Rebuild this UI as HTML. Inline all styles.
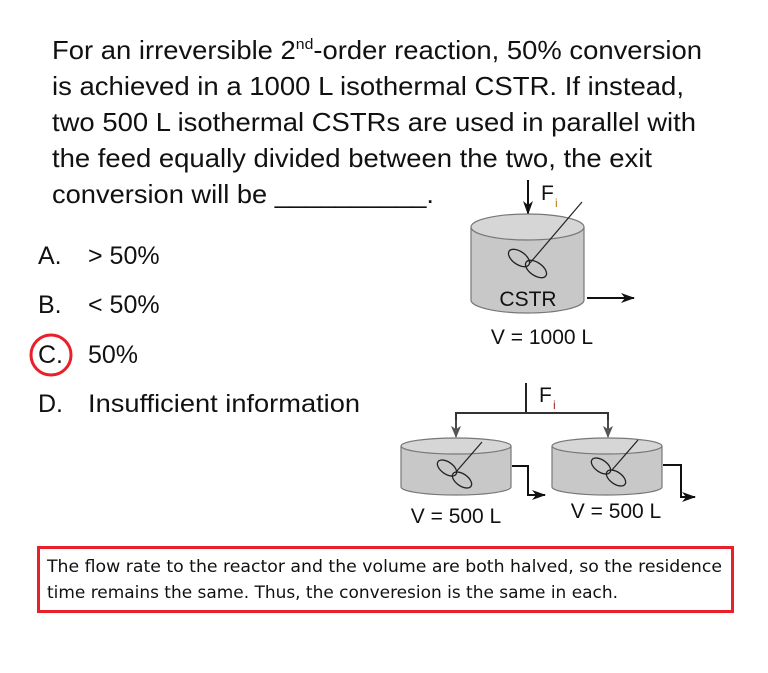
<!DOCTYPE html>
<html><head><meta charset="utf-8"><style>
html,body{margin:0;padding:0;background:#fff;}
svg{display:block;}
text{font-family:"Liberation Sans",Arial,sans-serif;fill:#111;}
.c{font-family:"DejaVu Sans Condensed","Liberation Sans",sans-serif;}
</style></head><body>
<svg width="768" height="673" viewBox="0 0 768 673" xmlns="http://www.w3.org/2000/svg">
<defs>
<marker id="ah" markerWidth="14" markerHeight="12" refX="13" refY="6" orient="auto" markerUnits="userSpaceOnUse"><path d="M0,1 L14,6 L0,11 L4,6 Z" fill="#111"/></marker>
<marker id="ahg" markerWidth="12" markerHeight="12" refX="11" refY="6" orient="auto" markerUnits="userSpaceOnUse"><path d="M0,1 L12,6 L0,11 L3,6 Z" fill="#555"/></marker>
</defs>
<g font-size="26">
<text x="52" y="59" textLength="650" lengthAdjust="spacingAndGlyphs">For an irreversible 2<tspan font-size="15" dy="-10">nd</tspan><tspan dy="10">-order reaction, 50% conversion</tspan></text>
<text x="52" y="95" textLength="632" lengthAdjust="spacingAndGlyphs">is achieved in a 1000 L isothermal CSTR. If instead,</text>
<text x="52" y="131" textLength="644" lengthAdjust="spacingAndGlyphs">two 500 L isothermal CSTRs are used in parallel with</text>
<text x="52" y="167" textLength="600" lengthAdjust="spacingAndGlyphs">the feed equally divided between the two, the exit</text>
<text x="52" y="203" textLength="382" lengthAdjust="spacingAndGlyphs">conversion will be __________.</text>
</g>
<g font-size="25">
<text x="38" y="264">A.</text><text x="88" y="264">&gt; 50%</text>
<text x="38" y="313">B.</text><text x="88" y="313">&lt; 50%</text>
<text x="38" y="363">C.</text><text x="88" y="363">50%</text>
<text x="38" y="412">D.</text><text x="88" y="412" textLength="272" lengthAdjust="spacingAndGlyphs">Insufficient information</text>
</g>
<circle cx="51" cy="355" r="20" fill="none" stroke="#e8202a" stroke-width="3"/>
<!-- big CSTR -->
<line x1="528" y1="180" x2="528" y2="214" stroke="#111" stroke-width="2" marker-end="url(#ah)"/>
<text x="541" y="200" font-size="21">F</text><text x="555" y="207" font-size="12" style="fill:#b87a1a">i</text>
<path d="M471,227 L471,300 A56.5,13 0 0 0 584,300 L584,227" fill="#c8c8c8" stroke="#777" stroke-width="1.2"/>
<ellipse cx="527.5" cy="227" rx="56.5" ry="13" fill="#d6d6d6" stroke="#777" stroke-width="1.2"/>
<line x1="582" y1="202" x2="530" y2="263" stroke="#222" stroke-width="1.2"/>
<ellipse cx="519" cy="258" rx="12" ry="6.5" transform="rotate(35 519 258)" fill="none" stroke="#222" stroke-width="1.3"/>
<ellipse cx="536" cy="269" rx="12" ry="6.5" transform="rotate(35 536 269)" fill="none" stroke="#222" stroke-width="1.3"/>
<text x="528" y="306" font-size="21" text-anchor="middle">CSTR</text>
<line x1="587" y1="298" x2="634" y2="298" stroke="#111" stroke-width="2" marker-end="url(#ah)"/>
<text x="542" y="344" font-size="21" text-anchor="middle">V = 1000 L</text>
<!-- parallel -->
<line x1="526" y1="383" x2="526" y2="413" stroke="#222" stroke-width="2"/>
<text x="539" y="402" font-size="21">F</text><text x="553" y="409" font-size="12" style="fill:#a02020">i</text>
<path d="M456,430 L456,413 L608,413 L608,430" fill="none" stroke="#333" stroke-width="2"/>
<line x1="456" y1="420" x2="456" y2="437" stroke="#555" stroke-width="1.5" marker-end="url(#ahg)"/>
<line x1="608" y1="420" x2="608" y2="437" stroke="#555" stroke-width="1.5" marker-end="url(#ahg)"/>
<g>
<path d="M401,446 L401,487 A55,8 0 0 0 511,487 L511,446" fill="#c8c8c8" stroke="#777" stroke-width="1.2"/>
<ellipse cx="456" cy="446" rx="55" ry="8" fill="#d6d6d6" stroke="#777" stroke-width="1.2"/>
<line x1="482" y1="442" x2="456" y2="472" stroke="#222" stroke-width="1.2"/>
<ellipse cx="447" cy="468" rx="11" ry="6" transform="rotate(35 447 468)" fill="none" stroke="#222" stroke-width="1.3"/>
<ellipse cx="462" cy="480" rx="11" ry="6" transform="rotate(35 462 480)" fill="none" stroke="#222" stroke-width="1.3"/>
<path d="M512,466 L528,466 L528,495 L545,495" fill="none" stroke="#111" stroke-width="2" marker-end="url(#ah)"/>
</g>
<g>
<path d="M552,446 L552,487 A55,8 0 0 0 662,487 L662,446" fill="#c8c8c8" stroke="#777" stroke-width="1.2"/>
<ellipse cx="607" cy="446" rx="55" ry="8" fill="#d6d6d6" stroke="#777" stroke-width="1.2"/>
<line x1="638" y1="440" x2="612" y2="470" stroke="#222" stroke-width="1.2"/>
<ellipse cx="601" cy="466" rx="11" ry="6" transform="rotate(35 601 466)" fill="none" stroke="#222" stroke-width="1.3"/>
<ellipse cx="616" cy="478" rx="11" ry="6" transform="rotate(35 616 478)" fill="none" stroke="#222" stroke-width="1.3"/>
<path d="M663,465 L681,465 L681,497 L695,497" fill="none" stroke="#111" stroke-width="2" marker-end="url(#ah)"/>
</g>
<text x="456" y="523" font-size="21" text-anchor="middle">V = 500 L</text>
<text x="616" y="518" font-size="21" text-anchor="middle">V = 500 L</text>
<!-- answer box -->
<rect x="38.5" y="547.5" width="694" height="64" fill="none" stroke="#e8202a" stroke-width="3"/>
<text class="c" x="47" y="572" font-size="17" textLength="675" lengthAdjust="spacingAndGlyphs">The flow rate to the reactor and the volume are both halved, so the residence</text>
<text class="c" x="47" y="598" font-size="17" textLength="571" lengthAdjust="spacingAndGlyphs">time remains the same. Thus, the converesion is the same in each.</text>
</svg>
</body></html>
